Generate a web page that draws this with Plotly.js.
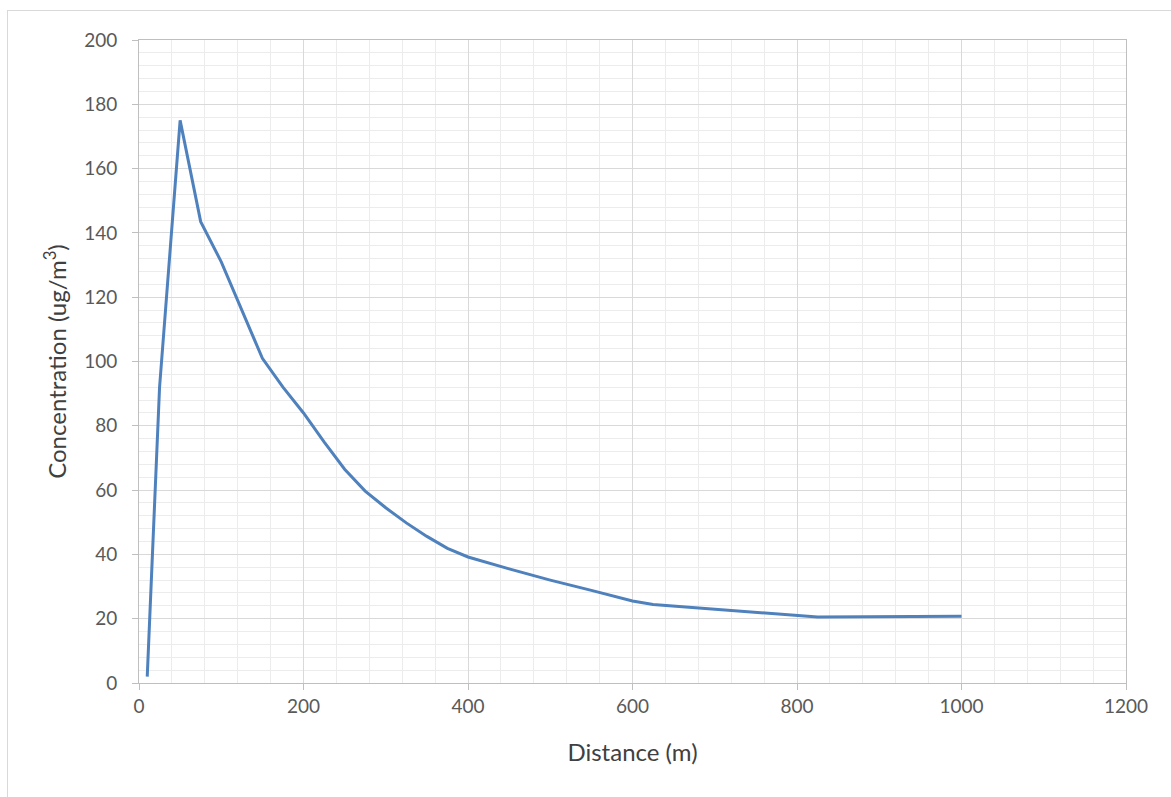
<!DOCTYPE html>
<html>
<head>
<meta charset="utf-8">
<script src="https://cdn.plot.ly/plotly-3.0.1.min.js"></script>
<style>
  html, body { margin: 0; padding: 0; background: #fff; overflow: hidden; }
  #chart { position: absolute; left: 0; top: 0; width: 1171px; height: 797px; }
  #frame { position: absolute; left: 7px; top: 10px; width: 1300px; height: 900px;
           border: 1px solid #d9d9d9; pointer-events: none; }
</style>
</head>
<body>
<div id="chart"></div>
<div id="frame"></div>
<script>
const distance = [10, 25, 50, 75, 100, 125, 150, 175, 200, 225, 250, 275, 300, 325, 350, 375, 400, 450, 500, 550, 600, 625, 825, 1000];
const concentration = [2, 92, 175, 143.5, 131, 116, 101, 92, 84, 75, 66.5, 59.7, 54.5, 49.8, 45.6, 41.9, 39.2, 35.5, 32, 28.8, 25.5, 24.4, 20.5, 20.8];
const xTitle = 'Distance (m)';
const yTitle = 'Concentration (ug/m<sup>3</sup>)';

const fontFam = 'Lato, "Open Sans", sans-serif';
const trace = {
  x: distance,
  y: concentration,
  type: 'scatter',
  mode: 'lines',
  line: { color: '#4F81BD', width: 3 },
  hoverinfo: 'x+y'
};

const layout = {
  width: 1171,
  height: 797,
  margin: { l: 139, r: 45, t: 40, b: 114 },
  paper_bgcolor: '#ffffff',
  plot_bgcolor: '#ffffff',
  showlegend: false,
  font: { family: fontFam, color: '#595959', size: 20 },
  xaxis: {
    range: [0, 1200],
    dtick: 200,
    tick0: 0,
    showgrid: true,
    gridcolor: '#d9d9d9',
    gridwidth: 1,
    zeroline: false,
    showline: true,
    linecolor: '#bfbfbf',
    linewidth: 1,
    mirror: true,
    ticks: 'outside',
    ticklen: 6,
    tickcolor: '#bfbfbf',
    tickfont: { family: fontFam, size: 19, color: '#595959' },
    minor: { dtick: 40, showgrid: true, gridcolor: '#ececec', gridwidth: 1, ticks: '' },
    title: { text: xTitle, font: { family: fontFam, size: 24, color: '#404040' }, standoff: 28 },
    fixedrange: true
  },
  yaxis: {
    range: [0, 200],
    dtick: 20,
    tick0: 0,
    showgrid: true,
    gridcolor: '#d9d9d9',
    gridwidth: 1,
    zeroline: false,
    showline: true,
    linecolor: '#bfbfbf',
    linewidth: 1,
    mirror: true,
    ticks: 'outside',
    ticklen: 6,
    tickcolor: '#bfbfbf',
    ticklabelstandoff: 11,
    tickfont: { family: fontFam, size: 19, color: '#595959' },
    minor: { dtick: 4, showgrid: true, gridcolor: '#ececec', gridwidth: 1, ticks: '' },
    title: { text: yTitle, font: { family: fontFam, size: 24, color: '#404040' }, standoff: 10 },
    fixedrange: true
  }
};

Plotly.newPlot('chart', [trace], layout, { displayModeBar: false, staticPlot: true });
</script>
</body>
</html>
